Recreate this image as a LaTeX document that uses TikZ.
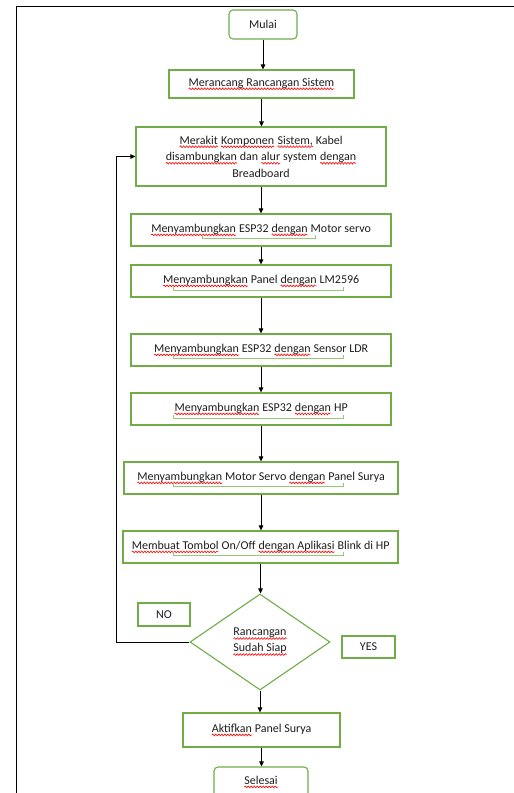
\documentclass[tikz,border=0pt]{standalone}
\usepackage{fontspec}
\setmainfont{Carlito}
\usetikzlibrary{shapes.geometric,arrows.meta,decorations.pathmorphing}
\definecolor{boxgreen}{RGB}{112,173,71}
\definecolor{tickgreen}{RGB}{150,200,120}
\definecolor{txt}{RGB}{30,30,30}
\newcommand\sq[1]{\tikz[baseline=(sqw.base)]{\node[rectangle, inner sep=0pt, outer sep=0pt, draw=none,
    minimum width=0pt, minimum height=0pt, align=left] (sqw) {#1};
  \draw[red, line width=0.6pt, sharp corners, decorate, decoration={snake, amplitude=0.9pt, segment length=3pt}]
  ([yshift=-2.6pt]sqw.base west) -- ([yshift=-2.6pt]sqw.base east);}}
\tikzset{
  stepbox/.style={draw=boxgreen, line width=1.1pt, rectangle, inner sep=0pt, text=txt,
    font=\fontsize{12}{16.5}\selectfont, align=center},
  termbox/.style={stepbox, rounded corners=4pt},
  decbox/.style={draw=boxgreen, line width=1.1pt, diamond, inner sep=0pt, text=txt,
    font=\fontsize{12}{16}\selectfont, align=center},
  arr/.style={draw=black, line width=0.9pt, -{Triangle[length=5pt,width=4.5pt]}},
  frame/.style={draw=black, line width=1.8pt},
  tick/.style={draw=tickgreen, line width=0.6pt}
}
\begin{document}
\begin{tikzpicture}[x=1pt,y=-1pt]
\useasboundingbox (0,0) rectangle (514,793);
\clip (0,0) rectangle (514,793);
\fill[white] (0,0) rectangle (514,793);
\draw[frame] (16.5,800) -- (16.5,6.5) -- (520,6.5);

\node[termbox, minimum width=68pt, minimum height=29pt] (mulai) at (263,24.5) {Mulai};
\node[stepbox, minimum width=185pt, minimum height=28pt] (s1) at (261.5,84) {\sq{Merancang Rancangan Sistem}};
\node[stepbox, minimum width=250pt, minimum height=59pt] (s2) at (261,156.5)
  {\sq{Merakit} \sq{Komponen} \sq{Sistem,} Kabel\\ \sq{disambungkan} dan \sq{alur} system \sq{dengan}\\ Breadboard};
\node[stepbox, minimum width=260pt, minimum height=32pt] (s3) at (261,230) {\sq{Menyambungkan} ESP32 \sq{dengan} Motor servo};
\node[stepbox, minimum width=260pt, minimum height=32pt] (s4) at (261,281) {\sq{Menyambungkan} Panel \sq{dengan} LM2596};
\node[stepbox, minimum width=260pt, minimum height=32pt] (s5) at (261,350) {\sq{Menyambungkan} ESP32 \sq{dengan} Sensor LDR};
\node[stepbox, minimum width=260pt, minimum height=32pt] (s6) at (261,409) {\sq{Menyambungkan} ESP32 \sq{dengan} HP};
\node[stepbox, minimum width=274pt, minimum height=32pt] (s7) at (261,478) {\sq{Menyambungkan} Motor Servo \sq{dengan} Panel Surya};
\node[stepbox, minimum width=275pt, minimum height=32pt] (s8) at (260.5,547) {\sq{Membuat Tombol} On/Off \sq{dengan Aplikasi} Blink di HP};
\node[decbox, minimum width=140pt, minimum height=96pt] (dec) at (260,642) {\sq{Rancangan}\\ \sq{Sudah Siap}};
\node[stepbox, minimum width=157pt, minimum height=34pt] (s9) at (261.5,730) {\sq{Aktifkan} Panel Surya};
\node[termbox, minimum width=94pt, minimum height=30pt] (selesai) at (261,782) {\sq{Selesai}};
\node[stepbox, minimum width=52pt, minimum height=23pt] (no) at (164,614.5) {NO};
\node[stepbox, minimum width=53pt, minimum height=22pt] (yes) at (368.5,647) {YES};

\draw[tick] (202,235) -- (202,238) -- (315,238) -- (315,235);
\draw[tick] (173,287) -- (173,290) -- (343,290) -- (343,287);
\draw[tick] (173,355) -- (173,358) -- (343,358) -- (343,355);
\draw[tick] (173,415) -- (173,418) -- (343,418) -- (343,415);
\draw[tick] (173,483) -- (173,486) -- (343,486) -- (343,483);
\draw[tick] (173,552) -- (173,555) -- (343,555) -- (343,552);

\draw[arr] (mulai) -- (mulai |- s1.north);
\draw[arr] (s1) -- (s1 |- s2.north);
\draw[arr] (s2) -- (s2 |- s3.north);
\draw[arr] (s3) -- (s3 |- s4.north);
\draw[arr] (s4) -- (s4 |- s5.north);
\draw[arr] (s5) -- (s5 |- s6.north);
\draw[arr] (s6) -- (s6 |- s7.north);
\draw[arr] (s7) -- (s7 |- s8.north);
\draw[arr] (s8) -- (s8 |- dec.north);
\draw[arr] (dec) -- (dec |- s9.north);
\draw[arr] (s9) -- (s9 |- selesai.north);
\draw[arr] (dec.west) -- ++(-73,0) |- (s2.west);
\end{tikzpicture}
\end{document}
